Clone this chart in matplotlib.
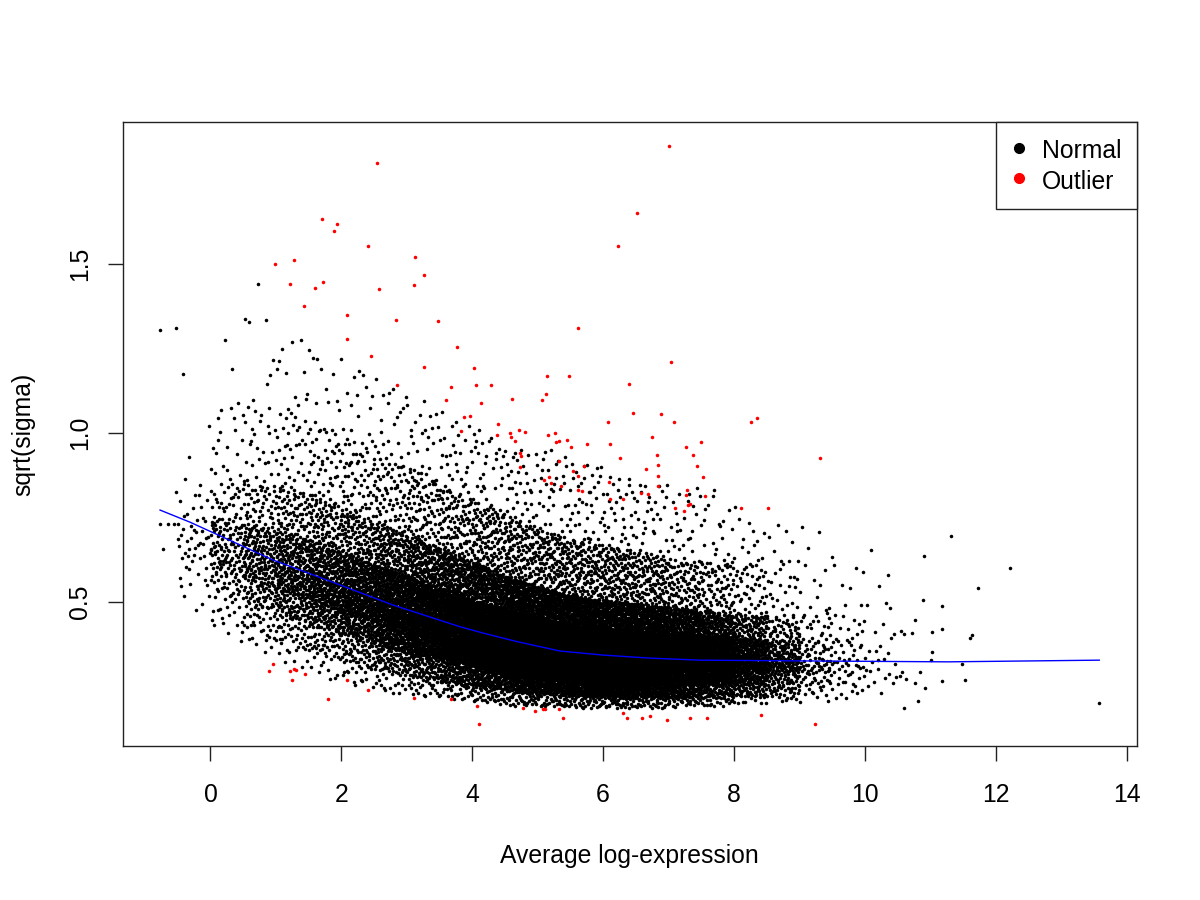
import numpy as np
import matplotlib
matplotlib.use("Agg")
import matplotlib.pyplot as plt
from matplotlib.lines import Line2D

plt.rcParams['font.family'] = ['Liberation Sans', 'DejaVu Sans']

bin_edges = [-0.5, 0.0, 0.5, 1.0, 1.5, 2.0, 2.5, 3.0, 3.5, 4.0, 4.5, 5.0,
             5.5, 6.0, 6.5, 7.0, 7.5, 8.0, 8.5, 9.0, 9.5, 10.0, 10.5]
bin_counts = [55, 200, 340, 460, 580, 720, 900, 1100, 1300, 1550, 1750,
              1800, 1800, 1700, 1500, 1200, 880, 560, 300, 120, 65, 30]
probs = [0.0, 0.02, 0.10, 0.25, 0.50, 0.75, 0.90, 0.98, 1.0]
q_min = [0.44, 0.40, 0.35, 0.31, 0.27, 0.25, 0.23, 0.22, 0.21, 0.20, 0.19,
         0.19, 0.185, 0.185, 0.185, 0.19, 0.19, 0.20, 0.20, 0.20, 0.21, 0.22]
q_02 = [0.46, 0.44, 0.40, 0.37, 0.34, 0.31, 0.29, 0.27, 0.255, 0.24, 0.23,
        0.225, 0.22, 0.215, 0.215, 0.215, 0.215, 0.22, 0.22, 0.22, 0.22, 0.23]
q_10 = [0.55, 0.52, 0.48, 0.45, 0.42, 0.39, 0.36, 0.34, 0.32, 0.295, 0.28,
        0.27, 0.26, 0.255, 0.255, 0.255, 0.255, 0.255, 0.25, 0.25, 0.25, 0.26]
q_25 = [0.62, 0.59, 0.55, 0.52, 0.49, 0.455, 0.42, 0.395, 0.37, 0.345, 0.33,
        0.315, 0.305, 0.30, 0.30, 0.295, 0.295, 0.29, 0.29, 0.29, 0.29, 0.29]
q_50 = [0.68, 0.66, 0.63, 0.60, 0.57, 0.53, 0.50, 0.465, 0.44, 0.41, 0.39,
        0.37, 0.36, 0.355, 0.35, 0.345, 0.34, 0.335, 0.33, 0.33, 0.33, 0.34]
q_75 = [0.74, 0.75, 0.72, 0.70, 0.67, 0.63, 0.595, 0.56, 0.525, 0.49, 0.465,
        0.44, 0.425, 0.415, 0.41, 0.405, 0.40, 0.39, 0.385, 0.39, 0.40, 0.42]
q_90 = [0.82, 0.87, 0.85, 0.84, 0.80, 0.76, 0.72, 0.68, 0.64, 0.60, 0.56,
        0.53, 0.51, 0.50, 0.49, 0.48, 0.47, 0.46, 0.46, 0.47, 0.48, 0.52]
q_98 = [0.95, 1.10, 1.10, 1.08, 1.02, 0.97, 0.93, 0.88, 0.83, 0.78, 0.74,
        0.70, 0.68, 0.66, 0.64, 0.62, 0.62, 0.62, 0.62, 0.65, 0.62, 0.62]
q_max = [1.20, 1.47, 1.44, 1.30, 1.25, 1.20, 1.15, 1.10, 1.05, 1.00, 0.95,
         0.95, 0.92, 0.88, 0.85, 0.85, 0.83, 0.75, 0.74, 0.74, 0.74, 0.72]

# sparse black points at both ends, read one by one
edge_x = [-0.77, -0.77, -0.72, -0.65, -0.56, -0.52, -0.53,
          10.55, 10.59, 10.72, 10.77, 10.89, 10.90, 11.03, 11.17, 11.17, 11.03,
          11.01, 11.32, 11.49, 11.53, 11.18, 11.61, 11.64, 11.72, 12.22, 13.58,
          10.81, 10.92, 10.84, 10.76, 10.60, 10.62, 10.54, 10.56]
edge_y = [1.305, 0.730, 0.656, 0.730, 0.730, 0.825, 1.310,
          0.413, 0.404, 0.407, 0.445, 0.505, 0.635, 0.409, 0.488, 0.418, 0.350,
          0.327, 0.693, 0.316, 0.267, 0.264, 0.393, 0.401, 0.540, 0.600, 0.200,
          0.207, 0.246, 0.291, 0.258, 0.184, 0.271, 0.280, 0.292]

# outliers (red)
red_x = [7.00, 2.55, 6.51, 1.71, 1.93, 1.89, 2.40, 6.23, 3.12, 1.27, 0.98, 3.27,
         1.21, 1.60, 1.72, 2.57, 3.11, 1.43, 2.08, 2.83, 3.47, 5.62, 2.08, 3.77,
         2.46, 7.03, 3.26, 4.03, 5.14, 5.48, 2.85, 3.67, 4.06, 4.28, 6.40, 3.60,
         4.14, 4.60, 5.13, 5.07, 3.88, 3.96, 6.46, 6.89, 4.39, 3.83, 6.07, 7.08,
         8.26, 8.35, 4.38, 4.58, 4.59, 4.72, 4.80, 4.66, 5.16, 5.27, 5.28, 5.33,
         5.44, 5.75, 5.51, 6.11, 6.74, 7.26, 7.49, 4.73, 4.75, 6.83, 7.38, 9.31,
         5.33, 4.73, 6.26, 5.70, 6.84, 7.43, 6.66, 5.54, 5.62, 6.84, 7.53, 5.18,
         5.10, 5.20, 6.09, 6.84, 5.35, 5.61, 5.68, 7.28, 6.58, 6.68, 7.26, 7.55,
         6.11, 6.31, 7.10, 7.29, 7.33, 7.24, 8.11, 8.52,
         0.95, 0.90, 1.21, 1.28, 1.30, 1.25, 1.45, 1.79, 2.09, 2.40, 3.11, 3.67,
         4.08, 4.11, 4.77, 4.96, 5.08, 5.11, 5.32, 5.38, 6.31, 6.37, 6.60, 6.71,
         6.97, 7.32, 7.59, 8.41, 9.23]
red_y = [1.848, 1.797, 1.649, 1.631, 1.617, 1.597, 1.551, 1.551, 1.520, 1.512,
         1.498, 1.467, 1.439, 1.428, 1.445, 1.424, 1.436, 1.374, 1.348, 1.333,
         1.330, 1.309, 1.276, 1.253, 1.226, 1.210, 1.193, 1.192, 1.167, 1.168,
         1.140, 1.135, 1.140, 1.141, 1.145, 1.097, 1.087, 1.101, 1.114, 1.096,
         1.046, 1.049, 1.057, 1.054, 1.026, 1.006, 1.031, 1.031, 1.031, 1.043,
         0.992, 0.999, 0.986, 1.008, 1.002, 0.975, 0.994, 0.998, 0.972, 0.976,
         0.978, 0.966, 0.957, 0.967, 0.986, 0.959, 0.972, 0.939, 0.932, 0.934,
         0.933, 0.924, 0.916, 0.899, 0.924, 0.901, 0.904, 0.901, 0.892, 0.886,
         0.871, 0.871, 0.868, 0.870, 0.860, 0.850, 0.853, 0.842, 0.841, 0.830,
         0.828, 0.830, 0.822, 0.818, 0.817, 0.814, 0.804, 0.805, 0.776, 0.785,
         0.790, 0.767, 0.776, 0.777,
         0.315, 0.295, 0.294, 0.301, 0.297, 0.267, 0.285, 0.211, 0.267, 0.238,
         0.214, 0.211, 0.191, 0.139, 0.185, 0.178, 0.182, 0.183, 0.182, 0.155,
         0.170, 0.155, 0.155, 0.161, 0.151, 0.156, 0.155, 0.164, 0.138]

# fitted trend (blue)
trend_x = [-0.77, -0.31, 0.96, 1.78, 2.79, 3.81, 4.17, 4.68, 5.34, 6.00,
           6.72, 7.48, 8.86, 11.27, 13.58]
trend_y = [0.771, 0.735, 0.623, 0.564, 0.490, 0.426, 0.407, 0.382, 0.354,
           0.342, 0.333, 0.327, 0.325, 0.322, 0.327]

assert len(red_x) == len(red_y)
assert len(edge_x) == len(edge_y)


def van_der_corput(n, base):
    seq = np.zeros(n)
    for k in range(n):
        i, f, r = k + 1, 1.0, 0.0
        while i > 0:
            f /= base
            r += f * (i % base)
            i //= base
        seq[k] = r
    return seq


def cloud_points():
    # x follows the bin counts, y follows the bin quantiles (blended between
    # bin centres); positions come from a Halton sequence, not random numbers
    n = sum(bin_counts)
    u = van_der_corput(n, 2)
    v = van_der_corput(n, 3)

    cdf = np.concatenate([[0], np.cumsum(bin_counts)]) / n
    xs = np.interp(u, cdf, bin_edges)

    centres = 0.5 * (np.array(bin_edges[:-1]) + np.array(bin_edges[1:]))
    quants = [q_min, q_02, q_10, q_25, q_50, q_75, q_90, q_98, q_max]
    qx = np.array([np.interp(xs, centres, col) for col in quants])

    k = np.clip(np.searchsorted(probs, v, side='right') - 1, 0, len(probs) - 2)
    p0 = np.array(probs)[k]
    p1 = np.array(probs)[k + 1]
    idx = np.arange(n)
    y0 = qx[k, idx]
    y1 = qx[k + 1, idx]
    ys = y0 + (y1 - y0) * (v - p0) / (p1 - p0)
    return xs, ys


cx, cy = cloud_points()

fig = plt.figure(figsize=(12, 9), dpi=100)
ax = fig.add_axes([0.1023, 0.1711, 0.845, 0.6933])

ms = 6.5
ax.scatter(cx, cy, s=ms, c='black', linewidths=0, antialiased=False)
ax.scatter(edge_x, edge_y, s=ms, c='black', linewidths=0, antialiased=False)
ax.scatter(red_x, red_y, s=ms, c='red', linewidths=0, antialiased=False)
ax.plot(trend_x, trend_y, color='blue', lw=1.0)

ax.set_xlim(-1.34, 14.153)
ax.set_ylim(0.073, 1.919)
ax.set_xticks([0, 2, 4, 6, 8, 10, 12, 14])
ax.set_yticks([0.5, 1.0, 1.5])
ax.set_yticklabels(['0.5', '1.0', '1.5'])

for sp in ax.spines.values():
    sp.set_linewidth(1.0)
    sp.set_color('#222222')
ax.tick_params(axis='both', length=11, width=1.0, color='#222222',
               labelsize=17.8)
ax.tick_params(axis='x', pad=15.5)
ax.tick_params(axis='y', pad=11, labelrotation=90)
for lab in ax.get_yticklabels():
    lab.set_va('center')

ax.set_xlabel('Average log-expression', fontsize=17.8, labelpad=27)
ax.set_ylabel('sqrt(sigma)', fontsize=17.8, labelpad=24)

handles = [Line2D([], [], ls='none', marker='o', ms=7, color='black'),
           Line2D([], [], ls='none', marker='o', ms=7, color='red')]
leg = ax.legend(handles, ['Normal', 'Outlier'], loc='upper right',
                borderaxespad=0, fancybox=False, framealpha=1,
                edgecolor='#222222', fontsize=17.8, handlelength=0.65,
                handleheight=1.23, handletextpad=0.61, labelspacing=0.16,
                borderpad=0.61)
leg.get_frame().set_linewidth(1.0)

fig.savefig('out.png', dpi=100)
